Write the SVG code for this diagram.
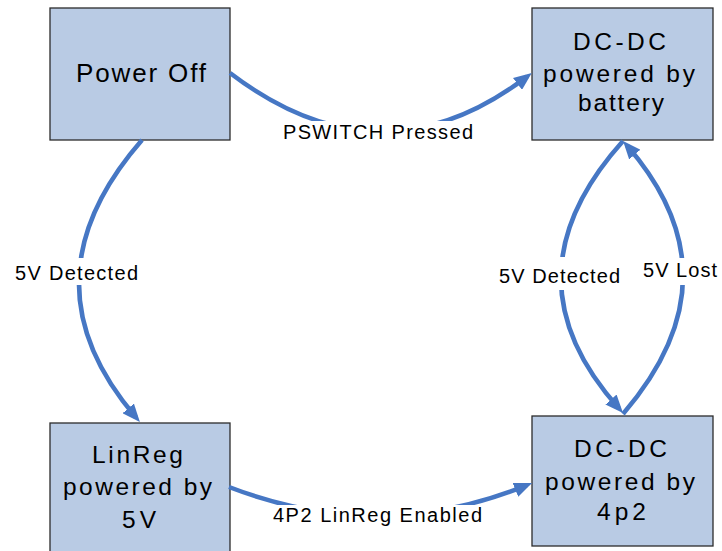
<svg xmlns="http://www.w3.org/2000/svg" width="722" height="551" viewBox="0 0 722 551">
<style>
.node rect{fill:#B9CBE4;stroke:#2b2b2b;stroke-width:1.3}
.nt{font-family:"Liberation Sans",Arial,sans-serif;font-size:24.5px;fill:#000}
.lt{font-family:"Liberation Sans",Arial,sans-serif;font-size:20px;fill:#000}
.edge{fill:none;stroke:#4677C4;stroke-width:4.5}
.mask{fill:#fff}
</style>
<defs>
<marker id="arr" markerUnits="userSpaceOnUse" markerWidth="18" markerHeight="15" viewBox="0 0 18 15" refX="12" refY="7.5" orient="auto">
<path d="M0,0 L18,7.5 L0,15 z" fill="#4677C4"/>
</marker>
</defs>
<rect width="722" height="551" fill="#fff"/>
<g id="power-off" class="node">
<rect x="50" y="8" width="180" height="132"/>
<text class="nt" x="76" y="82.3" textLength="130" lengthAdjust="spacing" style="font-size:26px">Power Off</text>
</g>
<g id="dcdc-battery" class="node">
<rect x="532" y="8" width="181" height="132"/>
<text class="nt" x="573" y="50" textLength="93" lengthAdjust="spacing">DC-DC</text>
<text class="nt" x="543" y="81.5" textLength="152" lengthAdjust="spacing">powered by</text>
<text class="nt" x="578" y="111" textLength="86" lengthAdjust="spacing">battery</text>
</g>
<g id="linreg-5v" class="node">
<rect x="50" y="423" width="180" height="140"/>
<text class="nt" x="92" y="463" textLength="91" lengthAdjust="spacing">LinReg</text>
<text class="nt" x="63" y="495" textLength="149" lengthAdjust="spacing">powered by</text>
<text class="nt" x="122" y="528" textLength="34" lengthAdjust="spacing">5V</text>
</g>
<g id="dcdc-4p2" class="node">
<rect x="532" y="416" width="181" height="130"/>
<text class="nt" x="574" y="457" textLength="93" lengthAdjust="spacing">DC-DC</text>
<text class="nt" x="545" y="490" textLength="150" lengthAdjust="spacing">powered by</text>
<text class="nt" x="597" y="520" textLength="49" lengthAdjust="spacing">4p2</text>
</g>
<g id="connectors">
<path class="edge" d="M230,73 Q381,188 527,76.6" marker-end="url(#arr)"/>
<path class="edge" d="M142,140 Q19,281 136,417.5" marker-end="url(#arr)"/>
<path class="edge" d="M229,487 Q380,545 526.5,485.3" marker-end="url(#arr)"/>
<path class="edge" d="M623,141 Q501,277 619,408.5" marker-end="url(#arr)"/>
<path class="edge" d="M623,414 Q741,277 627,145.5" marker-end="url(#arr)"/>
<g id="labels">
<rect class="mask" x="280" y="121" width="196" height="22"/>
<text class="lt" x="283" y="139" textLength="190" lengthAdjust="spacing">PSWITCH Pressed</text>
<rect class="mask" x="13" y="258" width="128" height="27"/>
<text class="lt" x="15" y="280" textLength="123" lengthAdjust="spacing">5V Detected</text>
<rect class="mask" x="497" y="257" width="125" height="33"/>
<text class="lt" x="499" y="282.5" textLength="121" lengthAdjust="spacing">5V Detected</text>
<rect class="mask" x="641" y="258" width="81" height="27"/>
<text class="lt" x="643" y="277" textLength="74" lengthAdjust="spacing">5V Lost</text>
<rect class="mask" x="271" y="505" width="214" height="22"/>
<text class="lt" x="273" y="521.5" textLength="209" lengthAdjust="spacing">4P2 LinReg Enabled</text>
</g>
</g>
</svg>
